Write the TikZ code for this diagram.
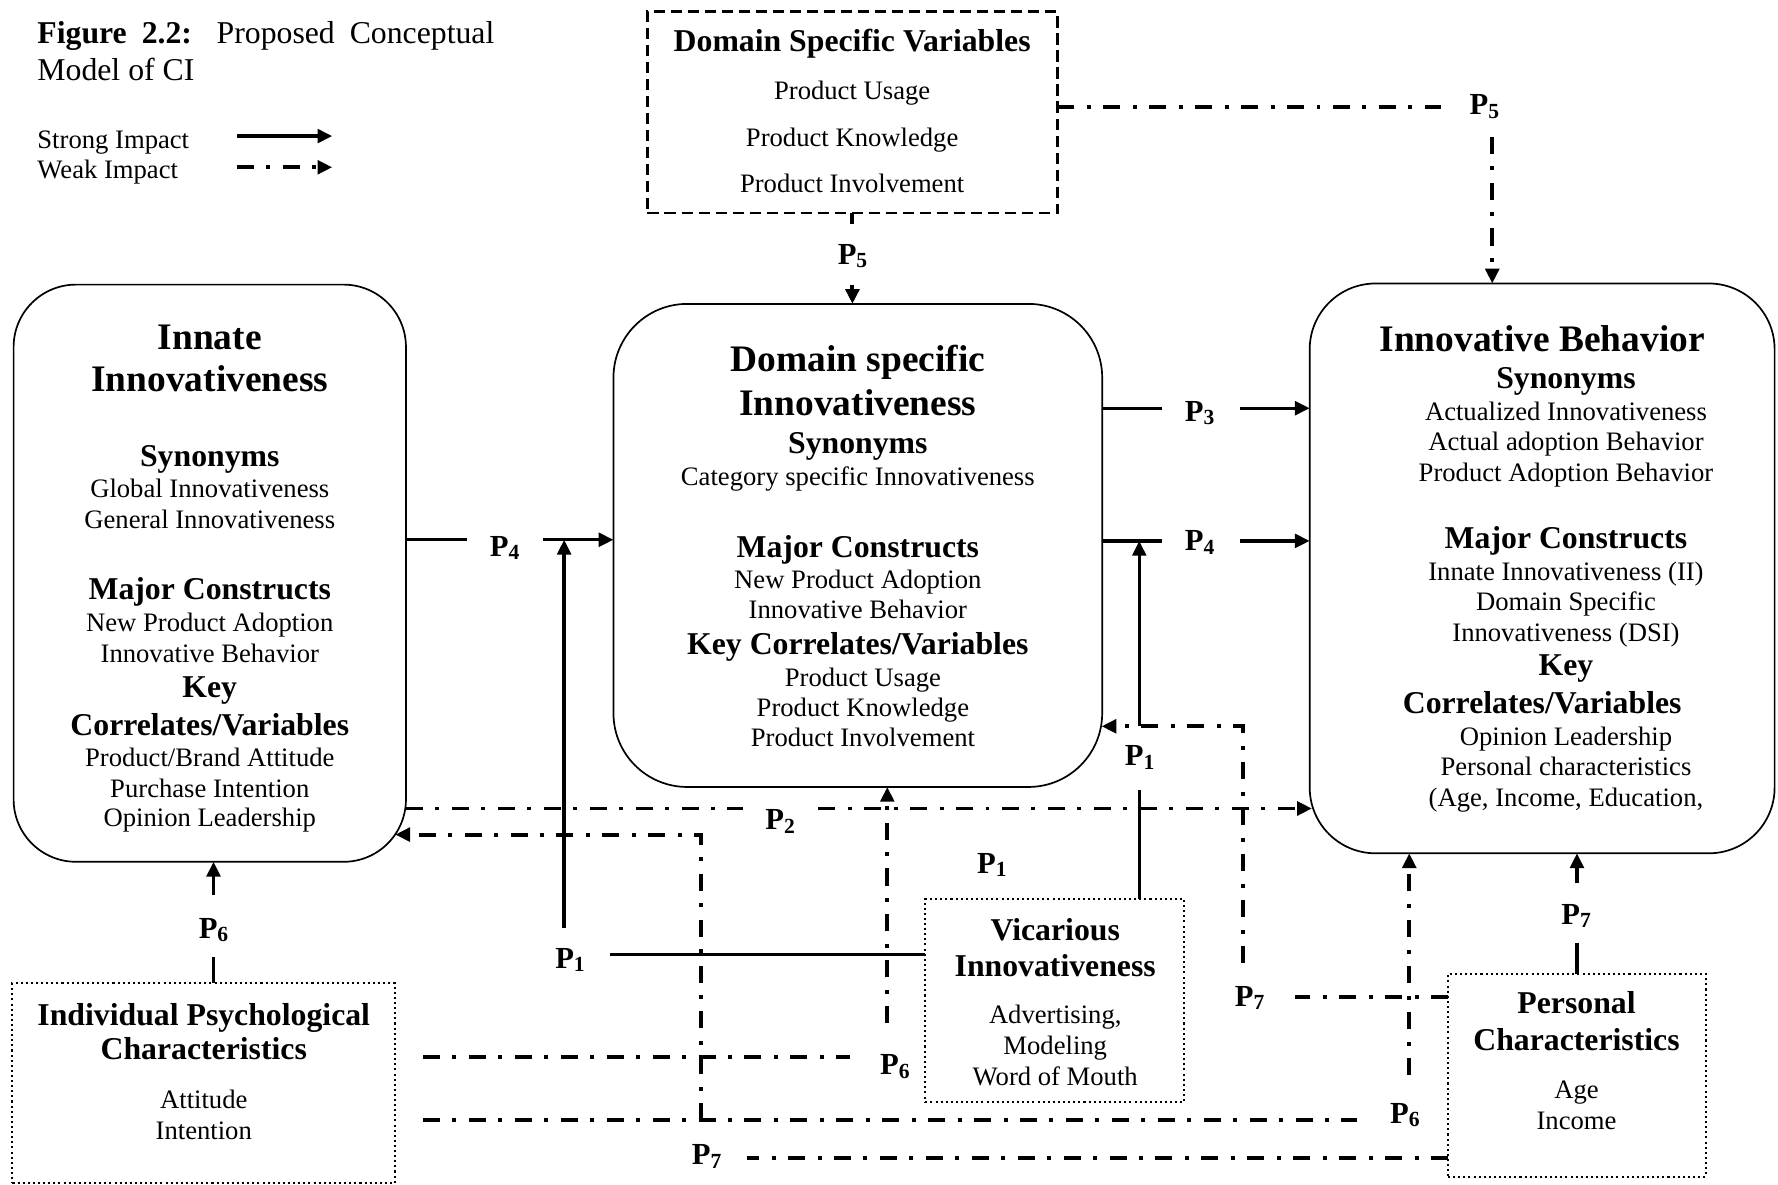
\documentclass[tikz,border=0pt]{standalone}
\usepackage{fontspec}
\setmainfont{Liberation Serif}
\usetikzlibrary{arrows.meta}

% font sizes (1 unit = 1pt)
\newcommand{\fbig}{\fontsize{33}{37}\selectfont\bfseries}
\newcommand{\fhead}{\fontsize{28}{32}\selectfont\bfseries}
\newcommand{\fbody}{\fontsize{23.5}{27}\selectfont}
\newcommand{\ftitle}{\fontsize{28}{32}\selectfont}
\newcommand{\flab}{\fontsize{27}{30}\selectfont\bfseries}
% proposition label P with lowered index
\newcommand{\plab}[1]{P\raisebox{-3pt}{\fontsize{19}{20}\selectfont#1}}
% one line of text, placed by its baseline
\newcommand{\tline}[5]{\node[txt, font=#4] (#1) at (#2,#3) {#5};}

\tikzset{
  every node/.style={inner sep=0pt, outer sep=0pt},
  txt/.style={anchor=base},
  rbox/.style={draw, line width=1.5pt},
  dashbox/.style={draw, line width=2.3pt, dash pattern=on 10pt off 5pt},
  dotbox/.style={draw, line width=1.8pt, dash pattern=on 1.8pt off 2.7pt},
  strong/.style={line width=3pt},
  strongarrow/.style={strong, -{Triangle[length=13pt,width=12pt]}},
  weak/.style={line width=3.5pt, dash pattern=on 15pt off 11pt on 3.5pt off 11pt},
  weakarrow/.style={weak, -{Triangle[length=13pt,width=12pt]}},
  plabel/.style={font=\flab},
}

\begin{document}
\begin{tikzpicture}[x=1pt, y=-1pt]
\useasboundingbox (0,0) rectangle (1568,1045);

% ---------- title and legend ----------
\node[anchor=base west, font=\ftitle] (title1) at (33,38)
  {\makebox[403pt][s]{\textbf{Figure 2.2:} Proposed Conceptual}};
\node[anchor=base west, font=\ftitle] (title2) at (33,70.6) {Model of CI};
\node[anchor=base west, font=\fbody] (lgstrong) at (33,131) {Strong Impact};
\node[anchor=base west, font=\fbody] (lgweak) at (33,157) {Weak Impact};
\coordinate (lgs1) at (209,120);   \coordinate (lgs2) at (293,120);
\coordinate (lgw1) at (209,147.5); \coordinate (lgw2) at (293,147.5);
\draw[strongarrow, line width=3.5pt] (lgs1) -- (lgs2);
\draw[weakarrow] (lgw1) -- (lgw2);

% ---------- boxes ----------
\node[rbox, rounded corners=55pt, minimum width=346pt, minimum height=509pt] (ii) at (185,505.5) {};
\node[rbox, rounded corners=65pt, minimum width=431pt, minimum height=426pt] (dsi) at (756.5,481) {};
\node[rbox, rounded corners=58pt, minimum width=410pt, minimum height=502.5pt] (ib) at (1360,501.25) {};
\node[dashbox, minimum width=361.5pt, minimum height=177.7pt] (dsv) at (751.75,99.15) {};
\node[dotbox, minimum width=228.5pt, minimum height=179pt] (vic) at (930.25,882.5) {};
\node[dotbox, minimum width=227.4pt, minimum height=178.6pt] (pc) at (1390.7,948.3) {};
\node[dotbox, minimum width=337pt, minimum height=176.5pt] (ipc) at (179.5,955.25) {};

% ---------- Innate Innovativeness ----------
\tline{ii1}{185}{308}{\fbig}{Innate}
\tline{ii2}{185}{345}{\fbig}{Innovativeness}
\tline{ii3}{185}{411}{\fhead}{Synonyms}
\tline{ii4}{185}{439}{\fbody}{Global Innovativeness}
\tline{ii5}{185}{466}{\fbody}{General Innovativeness}
\tline{ii6}{185}{529}{\fhead}{Major Constructs}
\tline{ii7}{185}{557}{\fbody}{New Product Adoption}
\tline{ii8}{185}{584}{\fbody}{Innovative Behavior}
\tline{ii9}{185}{615}{\fhead}{Key}
\tline{ii10}{185}{648.5}{\fhead}{Correlates/Variables}
\tline{ii11}{185}{676}{\fbody}{Product/Brand Attitude}
\tline{ii12}{185}{703}{\fbody}{Purchase Intention}
\tline{ii13}{185}{729}{\fbody}{Opinion Leadership}

% ---------- Domain specific Innovativeness ----------
\tline{ds1}{756.5}{328}{\fbig}{Domain specific}
\tline{ds2}{756.5}{366}{\fbig}{Innovativeness}
\tline{ds3}{756.5}{400}{\fhead}{Synonyms}
\tline{ds4}{756.5}{428}{\fbody}{Category specific Innovativeness}
\tline{ds5}{756.5}{492}{\fhead}{Major Constructs}
\tline{ds6}{756.5}{519}{\fbody}{New Product Adoption}
\tline{ds7}{756.5}{545}{\fbody}{Innovative Behavior}
\tline{ds8}{756.5}{577.5}{\fhead}{Key Correlates/Variables}
\tline{ds9}{761}{605}{\fbody}{Product Usage}
\tline{ds10}{761}{631.5}{\fbody}{Product Knowledge}
\tline{ds11}{761}{658}{\fbody}{Product Involvement}

% ---------- Innovative Behavior ----------
\tline{ib1}{1360}{309.6}{\fbig}{Innovative Behavior}
\tline{ib2}{1381}{343}{\fhead}{Synonyms}
\tline{ib3}{1381}{370.5}{\fbody}{Actualized Innovativeness}
\tline{ib4}{1381}{397.5}{\fbody}{Actual adoption Behavior}
\tline{ib5}{1381}{424.4}{\fbody}{Product Adoption Behavior}
\tline{ib6}{1381}{483.3}{\fhead}{Major Constructs}
\tline{ib7}{1381}{511.6}{\fbody}{Innate Innovativeness (II)}
\tline{ib8}{1381}{538}{\fbody}{Domain Specific}
\tline{ib9}{1381}{565.5}{\fbody}{Innovativeness (DSI)}
\tline{ib10}{1381}{596}{\fhead}{Key}
\tline{ib11}{1360}{629}{\fhead}{Correlates/Variables}
\tline{ib12}{1381}{657.4}{\fbody}{Opinion Leadership}
\tline{ib13}{1381}{684.3}{\fbody}{Personal characteristics}
\tline{ib14}{1381}{711.3}{\fbody}{(Age, Income, Education,}

% ---------- Domain Specific Variables ----------
\tline{dv1}{751.5}{45.6}{\fhead}{Domain Specific Variables}
\tline{dv2}{751.5}{87.6}{\fbody}{Product Usage}
\tline{dv3}{751.5}{129.3}{\fbody}{Product Knowledge}
\tline{dv4}{751.5}{170}{\fbody}{Product Involvement}

% ---------- Vicarious Innovativeness ----------
\tline{vi1}{930.6}{829}{\fhead}{Vicarious}
\tline{vi2}{930.6}{861.3}{\fhead}{Innovativeness}
\tline{vi3}{930.6}{902.4}{\fbody}{Advertising,}
\tline{vi4}{930.6}{930.3}{\fbody}{Modeling}
\tline{vi5}{930.6}{957.7}{\fbody}{Word of Mouth}

% ---------- Personal Characteristics ----------
\tline{pc1}{1390.3}{893.6}{\fhead}{Personal}
\tline{pc2}{1390.3}{926.5}{\fhead}{Characteristics}
\tline{pc3}{1390.3}{968.5}{\fbody}{Age}
\tline{pc4}{1390.3}{996.5}{\fbody}{Income}

% ---------- Individual Psychological Characteristics ----------
\tline{ip1}{179.7}{904}{\fhead}{Individual Psychological}
\tline{ip2}{179.7}{934.7}{\fhead}{Characteristics}
\tline{ip3}{179.7}{977.4}{\fbody}{Attitude}
\tline{ip4}{179.7}{1005.3}{\fbody}{Intention}

% ---------- proposition labels ----------
\node[plabel] (lbP5a) at (751.8,226) {\plab{5}};
\node[plabel] (lbP5b) at (1309,94) {\plab{5}};
\node[plabel] (lbP4a) at (445,483) {\plab{4}};
\node[plabel] (lbP3)  at (1058,364.5) {\plab{3}};
\node[plabel] (lbP4b) at (1058,478.5) {\plab{4}};
\node[plabel] (lbP1r) at (1005,668) {\plab{1}};
\node[plabel] (lbP1m) at (874.8,762.8) {\plab{1}};
\node[plabel] (lbP2)  at (688,724.6) {\plab{2}};
\node[plabel] (lbP1l) at (502.7,846.6) {\plab{1}};
\node[plabel] (lbP6u) at (188.3,820) {\plab{6}};
\node[plabel] (lbP6m) at (789.2,940.6) {\plab{6}};
\node[plabel] (lbP7r) at (1102,880) {\plab{7}};
\node[plabel] (lbP7u) at (1390,808) {\plab{7}};
\node[plabel] (lbP6r) at (1239,983.2) {\plab{6}};
\node[plabel] (lbP7b) at (623.2,1020) {\plab{7}};

% ---------- connector break points ----------
\coordinate (p5d1) at (751.75,197.6);  \coordinate (p5d2) at (751.75,251);
\coordinate (p5r1) at (1270.6,94.7);   \coordinate (p5r2) at (1316,120.5);
\coordinate (p4a1) at (411.5,476);     \coordinate (p4a2) at (479,476);
\coordinate (p3a)  at (1025,360);      \coordinate (p3b)  at (1093.5,360);
\coordinate (p4b1) at (1025,477);      \coordinate (p4b2) at (1093.5,477);
\coordinate (p1l1) at (537.6,842);     \coordinate (p1l2) at (497.5,818.6);
\coordinate (p1r1) at (1004.7,696.6);  \coordinate (p1r2) at (1004.7,640.5);
\coordinate (p2a)  at (655.5,713);     \coordinate (p2b)  at (721.6,713);
\coordinate (p6m1) at (373,931.8);     \coordinate (p6m2) at (749.6,931.8);
\coordinate (p6m3) at (782.5,902.4);
\coordinate (p6r1) at (373,988);       \coordinate (p6r2) at (1196.4,988);
\coordinate (p6r3) at (1242.8,948);
\coordinate (p7b1) at (658.4,1021.5);  \coordinate (p7b2) at (618.2,988);
\coordinate (p7b3) at (618.2,736);     \coordinate (p7b4) at (348.6,736);
\coordinate (p7m1) at (1142,879);      \coordinate (p7m2) at (1096.3,849.3);
\coordinate (p7m3) at (1096.3,640.5);  \coordinate (p7m4) at (971.5,640.5);
\coordinate (p7u1) at (1390.7,832);    \coordinate (p7u2) at (1390.7,779);
\coordinate (p6u1) at (188.3,843.6);   \coordinate (p6u2) at (188.3,789.2);

% ---------- connectors ----------
% P5: domain specific variables
\draw[weak] (dsv.south) -- (p5d1);
\draw[weakarrow] (p5d2) -- (p5d2 |- dsi.north);
\draw[weak] (dsv.east |- p5r1) -- (p5r1);
\draw[weakarrow] (p5r2) -- (p5r2 |- ib.north);

% P4: innate -> domain specific
\draw[strong] (ii.east |- p4a1) -- (p4a1);
\draw[strongarrow] (p4a2) -- (dsi.west |- p4a2);

% P3, P4: domain specific -> innovative behavior
\draw[strong] (dsi.east |- p3a) -- (p3a);
\draw[strongarrow] (p3b) -- (ib.west |- p3b);
\draw[strong] (dsi.east |- p4b1) -- (p4b1);
\draw[strongarrow] (p4b2) -- (ib.west |- p4b2);

% P1: vicarious innovativeness moderates both P4 paths
\draw[strong] (vic.west |- p1l1) -- (p1l1);
\draw[strongarrow] (p1l2) -- (p1l2 |- p4a1);
\draw[strong] (vic.north -| p1r1) -- (p1r1);
\draw[strongarrow] (p1r2) -- (p1r2 |- p4b1);

% P2: innate -> innovative behavior
\draw[weak] (ii.east |- p2a) -- (p2a);
\draw[weakarrow] (p2b) -- ([xshift=2pt]ib.west |- p2b);

% P6: individual psychological characteristics
\draw[strong] (ipc.north -| p6u1) -- (p6u1);
\draw[strongarrow] (p6u2) -- (p6u2 |- ii.south);
\draw[weak] (p6m1) -- (p6m2);
\draw[weakarrow] (p6m3) -- (p6m3 |- dsi.south);
\draw[weak] (p6r1) -- (p6r2);
\draw[weakarrow] (p6r3) -- (p6r3 |- ib.south);

% P7: personal characteristics
\draw[weak] (pc.west |- p7b1) -- (p7b1);
\draw[weakarrow] (p7b2) -- (p7b3) -- (p7b4);
\draw[weak] (pc.west |- p7m1) -- (p7m1);
\draw[weakarrow] (p7m2) -- (p7m3) -- (p7m4);
\draw[strong] (pc.north -| p7u1) -- (p7u1);
\draw[strongarrow] (p7u2) -- (p7u2 |- ib.south);

\end{tikzpicture}
\end{document}
